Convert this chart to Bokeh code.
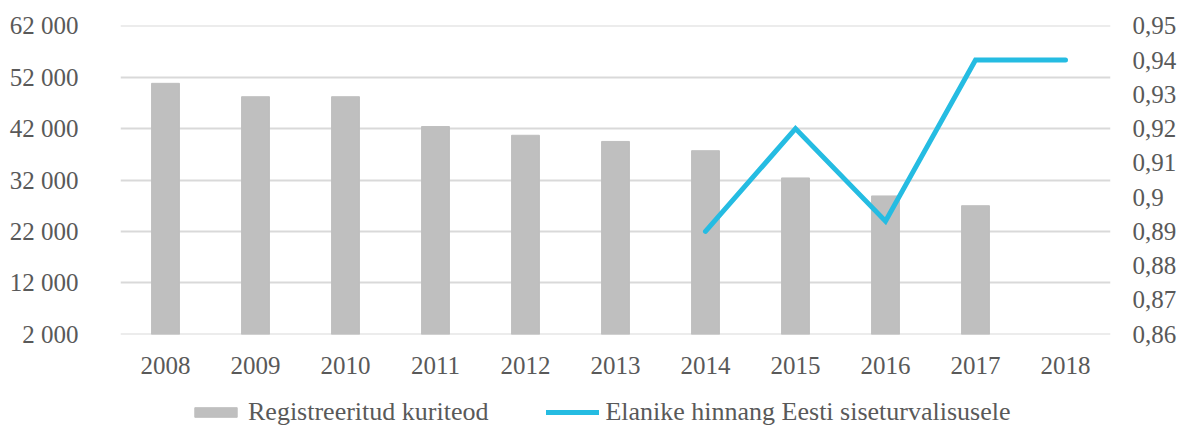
from bokeh.plotting import figure
from bokeh.layouts import column
from bokeh.models import (Range1d, LinearAxis, FixedTicker, CustomJSTickFormatter,
                          Legend, LegendItem, FactorRange, ColumnDataSource)
from bokeh.embed import file_html
from bokeh.resources import INLINE

years = ["2008", "2009", "2010", "2011", "2012", "2013", "2014", "2015", "2016", "2017", "2018"]
crimes = [50800, 48200, 48200, 42400, 40700, 39500, 37700, 32400, 28900, 27000, None]
rating_years = ["2014", "2015", "2016", "2017", "2018"]
rating = [0.89, 0.92, 0.893, 0.94, 0.94]
left_ticks = [2000, 12000, 22000, 32000, 42000, 52000, 62000]
right_ticks = [0.86, 0.87, 0.88, 0.89, 0.90, 0.91, 0.92, 0.93, 0.94, 0.95]
series_names = ["Registreeritud kuriteod", "Elanike hinnang Eesti siseturvalisusele"]

FONT = "Liberation Serif"
TXT = "#595959"
GRID = "#D9D9D9"
BAR = "#BFBFBF"
LINE = "#25BCE2"

# small padding so the end gridlines are fully visible
pad = 50
lo, hi = left_ticks[0] - pad, left_ticks[-1] + pad
rpad = (right_ticks[-1] - right_ticks[0]) * pad / (left_ticks[-1] - left_ticks[0])

p = figure(x_range=FactorRange(*years), y_range=Range1d(lo, hi),
           frame_width=990, frame_height=309, output_backend="svg", toolbar_location=None,
           min_border_left=120, min_border_right=66, min_border_top=25, min_border_bottom=47)
p.outline_line_color = None
p.background_fill_color = "white"
p.border_fill_color = "white"

p.extra_y_ranges = {"right": Range1d(right_ticks[0] - rpad, right_ticks[-1] + rpad)}

bar_years = [y for y, v in zip(years, crimes) if v is not None]
bar_vals = [v for v in crimes if v is not None]
p.vbar(x=bar_years, top=bar_vals, bottom=0, width=0.31, color=BAR)
p.line(x=rating_years, y=rating, y_range_name="right", line_color=LINE,
       line_width=5, line_cap="round", line_join="miter")

la = p.yaxis[0]
la.ticker = FixedTicker(ticks=left_ticks)
la.formatter = CustomJSTickFormatter(code="""
var s = Math.round(tick).toString();
return s.replace(/\\B(?=(\\d{3})+(?!\\d))/g, ' ');
""")
ra = LinearAxis(y_range_name="right", ticker=FixedTicker(ticks=right_ticks),
                formatter=CustomJSTickFormatter(code="""
var s = tick.toFixed(2);
if (s.endsWith('0')) { s = s.slice(0, -1); }
return s.replace('.', ',');
"""))
p.add_layout(ra, "right")

for ax in [la, ra, p.xaxis[0]]:
    ax.axis_line_color = None
    ax.major_tick_line_color = None
    ax.minor_tick_line_color = None
    ax.major_label_text_font = FONT
    ax.major_label_text_font_size = "25px"
    ax.major_label_text_color = TXT
la.major_label_standoff = 36
ra.major_label_standoff = 16
p.xaxis[0].major_label_standoff = 16

p.xgrid.grid_line_color = None
p.ygrid.grid_line_color = GRID
p.ygrid.grid_line_width = 2
p.ygrid.ticker = FixedTicker(ticks=left_ticks)

# legend strip below the chart; its swatch renderers hold one point kept outside the visible range
lf = figure(x_range=Range1d(0, 1), y_range=Range1d(0, 1), frame_width=1176, frame_height=46,
            output_backend="svg", toolbar_location=None, x_axis_type=None, y_axis_type=None,
            min_border=0)
lf.outline_line_color = None
lf.xgrid.visible = False
lf.ygrid.visible = False
offscreen = ColumnDataSource(data=dict(x=[-5.0], y=[-5.0], b=[-6.0]))
sw_bar = lf.vbar(x="x", top="y", bottom="b", width=0.1, color=BAR, source=offscreen)
sw_line = lf.line(x="x", y="y", line_color=LINE, line_width=5, line_cap="round", source=offscreen)
legend = Legend(items=[LegendItem(label=series_names[0], renderers=[sw_bar]),
                       LegendItem(label=series_names[1], renderers=[sw_line])],
                orientation="horizontal", location=(189, 0),
                label_text_font=FONT, label_text_font_size="26px", label_text_color=TXT,
                glyph_width=53, glyph_height=12, spacing=58, label_standoff=6,
                border_line_color=None, background_fill_alpha=0, margin=0, padding=0)
lf.add_layout(legend, "center")

open("out.html", "w").write(file_html(column(p, lf, spacing=0), INLINE))
